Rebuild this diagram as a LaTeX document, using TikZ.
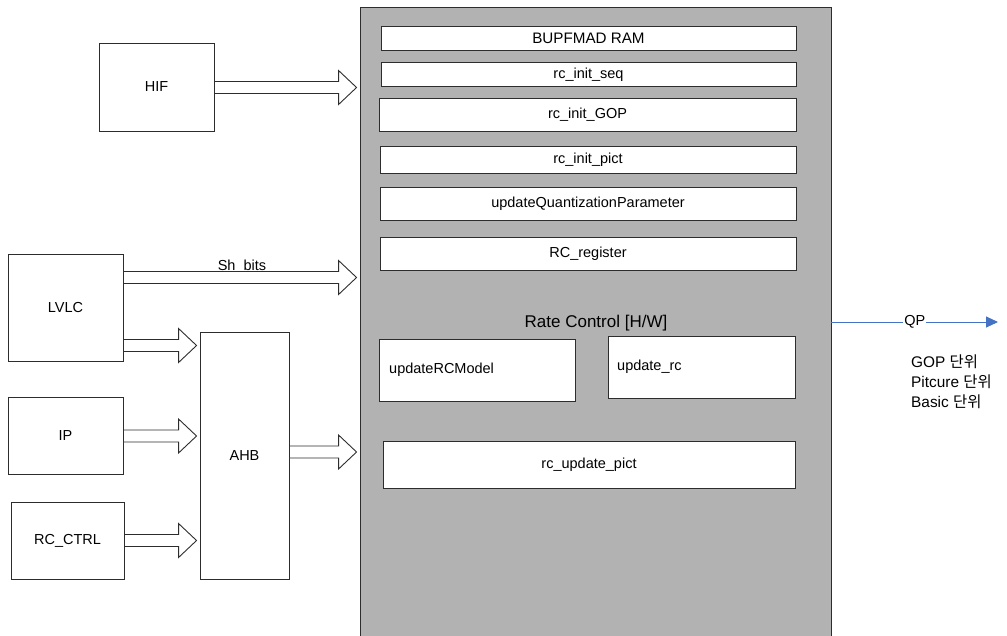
\documentclass[tikz,border=0pt]{standalone}
\usepackage{fontspec}
\setmainfont{Liberation Sans}
\newfontfamily\krfont{Noto Sans CJK KR}
\usetikzlibrary{calc,arrows.meta}
\definecolor{panel}{RGB}{178,178,178}
\definecolor{edge}{RGB}{45,45,45}
\definecolor{qpblue}{RGB}{68,114,196}
\newcommand{\blockarrow}[3]{%
  \path (#1.east |- 0,#3) coordinate (bs) ($(#2.west |- 0,#3)+(-3,0)$) coordinate (be);
  \draw[barrow] ($(bs)+(0,-6)$) -- ($(be)+(-18,-6)$) -- ($(be)+(-18,-17)$) -- (be)
     -- ($(be)+(-18,17)$) -- ($(be)+(-18,6)$) -- ($(bs)+(0,6)$) -- cycle;}
\begin{document}
\begin{tikzpicture}[x=1pt,y=-1pt,
  box/.style={draw=edge,line width=0.9pt,fill=white,inner sep=0pt,font=\fontsize{14.5}{17}\selectfont},
  barrow/.style={draw=edge,line width=0.9pt,fill=white,line join=miter},
  lbl/.style={inner sep=0pt,font=\fontsize{14.5}{17}\selectfont},
  unitlbl/.style={inner sep=0pt,anchor=base west,font=\fontsize{15.4}{20}\selectfont},
  qpline/.style={draw=qpblue,line width=0.9pt,-{Triangle[length=12pt,width=11pt]}}]
\useasboundingbox (0,0) rectangle (1007,635);
% main panel
\node[box,fill=panel,minimum width=471pt,minimum height=633pt] (main) at (595.5,323.5) {};
\node[box,minimum width=415pt,minimum height=24pt,font=\fontsize{15.2}{17}\selectfont] (bupf) at (588.5,38) {BUPFMAD RAM};
\node[box,minimum width=415pt,minimum height=24pt] (seq) at (588.5,74.5) {rc\_init\_seq};
\node[box,minimum width=417pt,minimum height=33pt] (gop) at (587.5,114.5) {rc\_init\_GOP};
\node[box,minimum width=416pt,minimum height=27pt] (pict) at (588,159.5) {rc\_init\_pict};
\node[box,minimum width=416pt,minimum height=33pt] (uqp) at (588,203.5) {updateQuantizationParameter};
\node[box,minimum width=416pt,minimum height=33pt] (reg) at (588,253.5) {RC\_register};
\node[lbl,font=\fontsize{17}{20}\selectfont] (rctitle) at (596,323) {Rate Control [H/W]};
\node[box,minimum width=196pt,minimum height=62pt] (urm) at (477,370) {};
\node[lbl,anchor=west] (urmt) at (389,370) {updateRCModel};
\node[box,minimum width=187pt,minimum height=62pt] (urc) at (701.5,367) {};
\node[lbl,anchor=west] (urct) at (617,367) {update\_rc};
\node[box,minimum width=412pt,minimum height=47pt] (upd) at (589,464.5) {rc\_update\_pict};
% left blocks
\node[box,minimum width=115pt,minimum height=88pt] (hif) at (156.5,87) {HIF};
\node[box,minimum width=115pt,minimum height=107pt] (lvlc) at (65.5,307.5) {LVLC};
\node[box,minimum width=115pt,minimum height=77pt] (ip) at (65.5,435.5) {IP};
\node[box,minimum width=113pt,minimum height=77pt] (rcc) at (67.5,540.5) {RC\_CTRL};
\node[box,minimum width=89pt,minimum height=247pt] (ahb) at (244.5,455.5) {AHB};
% block arrows
\blockarrow{hif}{main}{87.5}
\node[lbl] (sh) at (242,267) {Sh\_bits};
\blockarrow{lvlc}{main}{277.5}
\blockarrow{lvlc}{ahb}{345.5}
\blockarrow{ip}{ahb}{436}
\blockarrow{rcc}{ahb}{540.5}
\blockarrow{ahb}{main}{452}
% QP output
\coordinate (qpend) at (998,322);
\draw[qpline] (main.east |- qpend) -- node[lbl,fill=white,inner sep=1pt] (qp) {QP} (qpend);
\node[unitlbl] (u1) at (911,367) {GOP {\krfont 단위}};
\node[unitlbl] (u2) at (911,387) {Pitcure {\krfont 단위}};
\node[unitlbl] (u3) at (911,407) {Basic {\krfont 단위}};
\end{tikzpicture}
\end{document}
